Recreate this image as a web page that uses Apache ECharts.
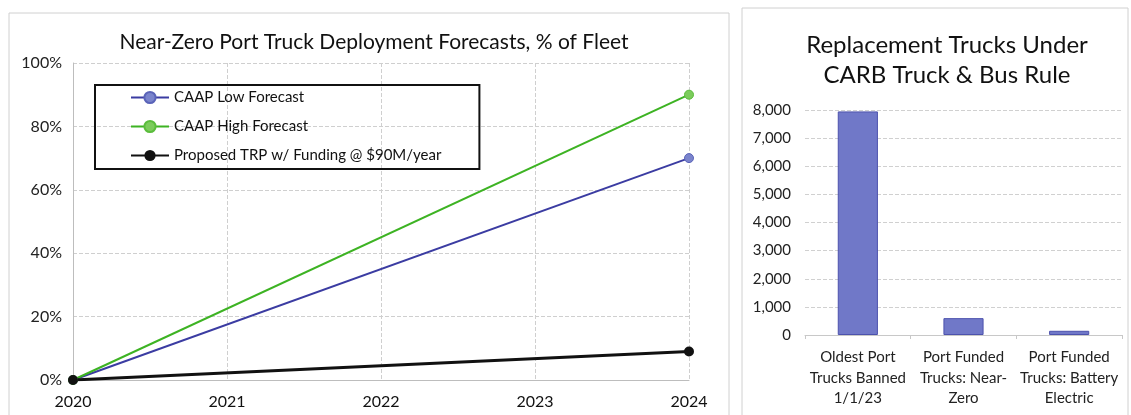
<!DOCTYPE html>
<html><head><meta charset="utf-8">
<script src="https://cdn.jsdelivr.net/npm/echarts@6/dist/echarts.min.js"></script>
<style>html,body{margin:0;padding:0;background:#fff}#c{width:1131px;height:415px}</style>
</head><body><div id="c"></div>
<script>
// Left chart data
var years = [2020, 2024];
var lowForecast = [0, 70];
var highForecast = [0, 90];
var trpFunding = [0, 9];
var seriesNames = ['CAAP Low Forecast', 'CAAP High Forecast', 'Proposed TRP w/ Funding @ $90M/year'];
// Right chart data
var barCategories = ['Oldest Port\nTrucks Banned\n1/1/23', 'Port Funded\nTrucks: Near-\nZero', 'Port Funded\nTrucks: Battery\nElectric'];
var barValues = [7950, 600, 150];

function pairs(xs, ys) { return xs.map(function (x, i) { return [x, ys[i]]; }); }

var font = 'Lato';
var chart = echarts.init(document.getElementById('c'));
chart.setOption({
  backgroundColor: '#fff',
  textStyle: { fontFamily: font },
  animation: false,
  graphic: [
    { type: 'rect', shape: { x: 9, y: 13, width: 720, height: 410 }, style: { fill: 'none', stroke: '#d0d0d0', lineWidth: 1 } },
    { type: 'rect', shape: { x: 742, y: 8, width: 386, height: 415 }, style: { fill: 'none', stroke: '#d0d0d0', lineWidth: 1 } }
  ],
  title: [
    { text: 'Near-Zero Port Truck Deployment Forecasts, % of Fleet', left: 369, top: 27, textAlign: 'center',
      textStyle: { fontFamily: font, fontSize: 21, fontWeight: 'normal', color: '#111' } },
    { text: 'Replacement Trucks Under\nCARB Truck & Bus Rule', left: 942, top: 25, textAlign: 'center',
      textStyle: { fontFamily: font, fontSize: 24, fontWeight: 'normal', color: '#111', lineHeight: 30 } }
  ],
  legend: {
    left: 95, top: 85, orient: 'vertical',
    padding: [5, 38, 6, 35],
    itemGap: 14, itemWidth: 38, itemHeight: 14,
    borderColor: '#111', borderWidth: 2,
    textStyle: { fontFamily: font, fontSize: 15, color: '#111' },
    data: seriesNames
  },
  grid: [
    { left: 73, right: 1131 - 689, top: 63, bottom: 415 - 380 },
    { left: 805, right: 1131 - 1122, top: 110, bottom: 415 - 335 }
  ],
  xAxis: [
    { type: 'value', gridIndex: 0, min: 2020, max: 2024, interval: 1,
      axisLine: { show: true, lineStyle: { color: '#bdbdbd' } }, axisTick: { show: false },
      axisLabel: { fontFamily: font, fontSize: 16, color: '#111', margin: 14, formatter: function (v) { return String(v); } },
      splitLine: { show: true, lineStyle: { color: '#cfcfcf', type: 'dashed' } } },
    { type: 'category', gridIndex: 1, data: barCategories,
      axisLine: { show: true, lineStyle: { color: '#c8c8c8' } },
      axisTick: { show: true, length: 4, lineStyle: { color: '#c8c8c8' } },
      axisLabel: { fontFamily: font, fontSize: 15, color: '#222', lineHeight: 20.5, margin: 12, interval: 0 } }
  ],
  yAxis: [
    { type: 'value', gridIndex: 0, min: 0, max: 100, interval: 20,
      axisLine: { show: true, lineStyle: { color: '#bdbdbd' } }, axisTick: { show: false },
      axisLabel: { fontFamily: font, fontSize: 16, color: '#222', margin: 11, formatter: '{value}%' },
      splitLine: { show: true, lineStyle: { color: '#cfcfcf', type: 'dashed' } } },
    { type: 'value', gridIndex: 1, min: 0, max: 8000, interval: 1000,
      axisLine: { show: false }, axisTick: { show: false },
      axisLabel: { fontFamily: font, fontSize: 15, color: '#222', margin: 14,
        formatter: function (v) { return v.toLocaleString('en-US'); } },
      splitLine: { show: true, lineStyle: { color: '#d0d0d0', type: 'dashed' } } }
  ],
  series: [
    { name: seriesNames[0], type: 'line', xAxisIndex: 0, yAxisIndex: 0, data: pairs(years, lowForecast),
      symbol: 'circle', symbolSize: 9, lineStyle: { color: '#3b3ca2', width: 2 },
      itemStyle: { color: '#7a84cc', borderColor: '#5a63b8', borderWidth: 1 } },
    { name: seriesNames[1], type: 'line', xAxisIndex: 0, yAxisIndex: 0, data: pairs(years, highForecast),
      symbol: 'circle', symbolSize: 9, lineStyle: { color: '#3db323', width: 2 },
      itemStyle: { color: '#7ccc5c', borderColor: '#5bbd3c', borderWidth: 1 } },
    { name: seriesNames[2], type: 'line', xAxisIndex: 0, yAxisIndex: 0, data: pairs(years, trpFunding),
      symbol: 'circle', symbolSize: 10, lineStyle: { color: '#111', width: 3 },
      itemStyle: { color: '#111' } },
    { type: 'bar', xAxisIndex: 1, yAxisIndex: 1, data: barValues, barWidth: '38%',
      itemStyle: { color: '#7078c8', borderColor: '#4c52ad', borderWidth: 1 } }
  ]
});
</script></body></html>
